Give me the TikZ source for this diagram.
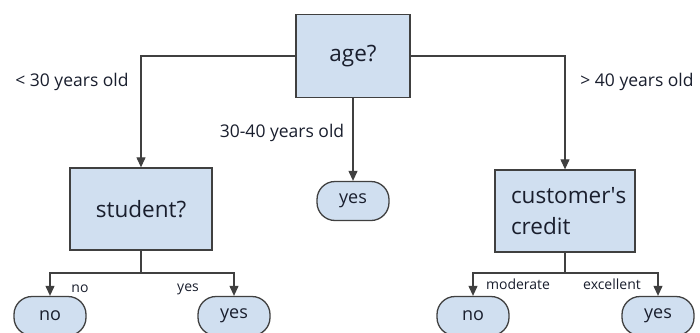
\documentclass[tikz,border=0pt]{standalone}
\usepackage{fontspec}
\setmainfont{Open Sans}
\usepackage{xcolor}
\usetikzlibrary{arrows.meta}

\definecolor{boxfill}{RGB}{208,223,240}
\definecolor{boxline}{RGB}{64,64,64}
\definecolor{ink}{RGB}{25,30,45}

\tikzset{
  question/.style={draw=boxline, fill=boxfill, line width=1.3pt, rectangle,
    inner sep=0pt, text=ink, font=\fontsize{22.5}{31}\selectfont},
  leaf/.style={draw=boxline, fill=boxfill, line width=1.3pt, rounded corners=18pt,
    minimum width=72pt, minimum height=39pt, inner sep=0pt, text=ink,
    font=\fontsize{18}{22}\selectfont},
  branch/.style={text=ink, font=\fontsize{17.5}{21}\selectfont},
  small/.style={text=ink, font=\fontsize{14}{17}\selectfont},
}

\begin{document}
\begin{tikzpicture}[x=1pt,y=-1pt,line width=1.1pt,draw=boxline,
    >={Triangle[width=9pt,length=10pt]}]
    \useasboundingbox (0,0) rectangle (700,332);

    % decision nodes
    \node[question, minimum width=114pt, minimum height=83pt] (age) at (353, 56) {age?};
    \node[question, minimum width=142pt, minimum height=82pt] (student) at (141, 209) {student?};
    \node[question, minimum width=140pt, minimum height=82pt, align=left,
          text width=108pt] (credit) at (565, 211) {customer\textquotesingle s\\credit};

    % leaves
    \node[leaf] (mid_yes) at (353, 201) {yes};
    \node[leaf] (student_no) at (50, 316) {no};
    \node[leaf] (student_yes) at (234, 316) {yes};
    \node[leaf] (credit_no) at (473, 316) {no};
    \node[leaf] (credit_yes) at (658, 316) {yes};

    % edge labels
    \node[branch] (young) at (72, 82) {< 30 years old};
    \node[branch] (middle) at (282, 133) {30-40 years old};
    \node[branch] (senior) at (637, 82) {> 40 years old};
    \node[small] (lbl_no) at (80, 289) {no};
    \node[small] (lbl_yes) at (188, 289) {yes};
    \node[small] (lbl_moderate) at (518, 284) {moderate};
    \node[small] (lbl_excellent) at (612, 284) {excellent};

    \coordinate (student_fork) at (141, 273);
    \coordinate (credit_fork) at (565, 273);

    \draw[->] (age.west) -| (student.north);
    \draw[->] (age.east) -| (credit.north);
    \draw[->] (age.south) -- (mid_yes.north);

    \draw (student.south) -- (student_fork);
    \draw[->] (student_fork) -| (student_no.north);
    \draw[->] (student_fork) -| (student_yes.north);

    \draw (credit.south) -- (credit_fork);
    \draw[->] (credit_fork) -| (credit_no.north);
    \draw[->] (credit_fork) -| (credit_yes.north);

  \end{tikzpicture}
\end{document}
